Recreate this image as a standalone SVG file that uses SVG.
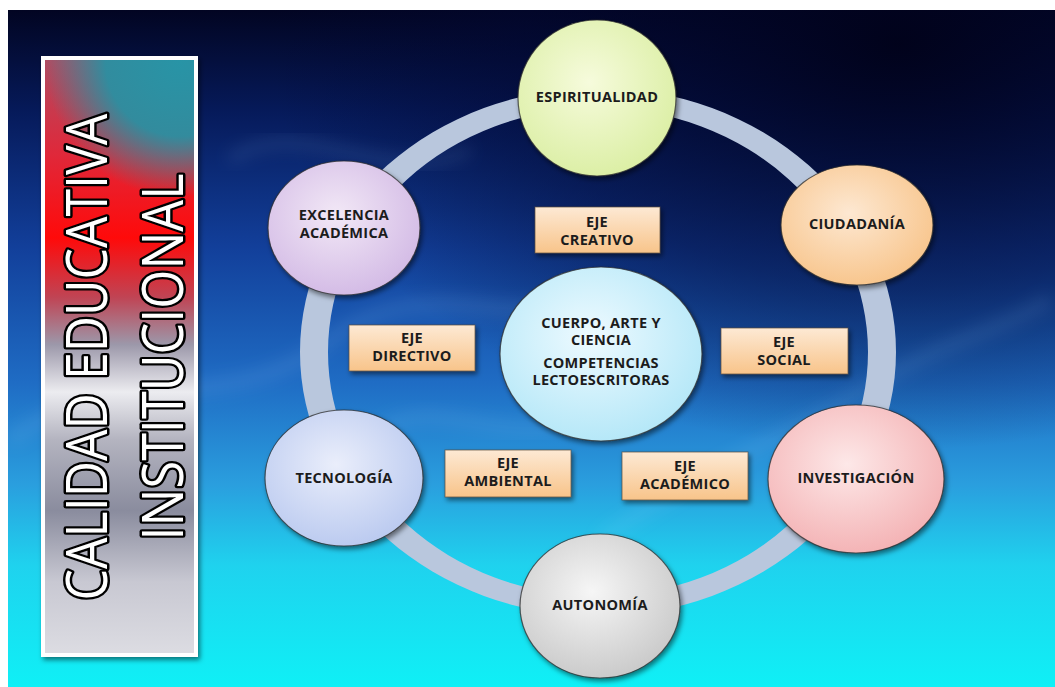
<svg xmlns="http://www.w3.org/2000/svg" width="1055" height="687" viewBox="0 0 1055 687">
<defs>
  <linearGradient id="bg" x1="0" y1="0" x2="0" y2="1">
    <stop offset="0" stop-color="#020522"/>
    <stop offset="0.15" stop-color="#061a5a"/>
    <stop offset="0.35" stop-color="#123f9a"/>
    <stop offset="0.55" stop-color="#1f6cc4"/>
    <stop offset="0.7" stop-color="#2a9ede"/>
    <stop offset="0.82" stop-color="#1fd2ee"/>
    <stop offset="1" stop-color="#0ff0f6"/>
  </linearGradient>
  <radialGradient id="darkTR" cx="0.85" cy="0.05" r="0.6">
    <stop offset="0" stop-color="#01021a" stop-opacity="0.95"/>
    <stop offset="0.6" stop-color="#020730" stop-opacity="0.5"/>
    <stop offset="1" stop-color="#020730" stop-opacity="0"/>
  </radialGradient>
  <filter id="blur" x="-20%" y="-50%" width="140%" height="200%"><feGaussianBlur stdDeviation="8"/></filter>
  <filter id="shadow" x="-20%" y="-20%" width="140%" height="140%">
    <feDropShadow dx="2" dy="3" stdDeviation="2.5" flood-color="#000" flood-opacity="0.5"/>
  </filter>
  <linearGradient id="bannerBase" x1="0" y1="0" x2="0" y2="1">
    <stop offset="0" stop-color="#b04c62"/>
    <stop offset="0.16" stop-color="#e0283a"/>
    <stop offset="0.3" stop-color="#ff0a0a"/>
    <stop offset="0.4" stop-color="#c04454"/>
    <stop offset="0.48" stop-color="#9c98aa"/>
    <stop offset="0.56" stop-color="#ececf0"/>
    <stop offset="0.64" stop-color="#b4b4c0"/>
    <stop offset="0.76" stop-color="#8a8c9e"/>
    <stop offset="0.88" stop-color="#c8c8d2"/>
    <stop offset="1" stop-color="#dcdce2"/>
  </linearGradient>
  <radialGradient id="bannerTeal" gradientUnits="userSpaceOnUse" cx="180" cy="62" r="135">
    <stop offset="0" stop-color="#2894a6"/>
    <stop offset="0.55" stop-color="#2a90a2" stop-opacity="0.95"/>
    <stop offset="1" stop-color="#2a90a2" stop-opacity="0"/>
  </radialGradient>
  <radialGradient id="gYellow" cx="0.45" cy="0.4" r="0.6">
    <stop offset="0" stop-color="#f6fbdc"/><stop offset="1" stop-color="#dcefa6"/>
  </radialGradient>
  <radialGradient id="gLav" cx="0.45" cy="0.4" r="0.6">
    <stop offset="0" stop-color="#f2e8f6"/><stop offset="1" stop-color="#d4bce6"/>
  </radialGradient>
  <radialGradient id="gPeach" cx="0.45" cy="0.4" r="0.6">
    <stop offset="0" stop-color="#fde8d2"/><stop offset="1" stop-color="#f8c68e"/>
  </radialGradient>
  <radialGradient id="gCyan" cx="0.45" cy="0.4" r="0.6">
    <stop offset="0" stop-color="#eefaff"/><stop offset="1" stop-color="#b6e8f8"/>
  </radialGradient>
  <radialGradient id="gBlue" cx="0.45" cy="0.4" r="0.6">
    <stop offset="0" stop-color="#eaeefb"/><stop offset="1" stop-color="#bccbf0"/>
  </radialGradient>
  <radialGradient id="gPink" cx="0.45" cy="0.4" r="0.6">
    <stop offset="0" stop-color="#fde8e8"/><stop offset="1" stop-color="#f4b4b6"/>
  </radialGradient>
  <radialGradient id="gGrey" cx="0.45" cy="0.4" r="0.6">
    <stop offset="0" stop-color="#f6f6f6"/><stop offset="1" stop-color="#cbcbcb"/>
  </radialGradient>
  <linearGradient id="gBox" x1="0" y1="0" x2="0" y2="1">
    <stop offset="0" stop-color="#fde9d4"/><stop offset="1" stop-color="#f8c48a"/>
  </linearGradient>
  <style>
    .node { stroke: #2e2e2e; stroke-opacity: 0.75; stroke-width: 1.2; filter: url(#shadow); }
    .box { fill: url(#gBox); stroke: #5a4a3a; stroke-opacity: 0.7; stroke-width: 1; filter: url(#shadow); }
    .lbl { font-family: "Open Sans", "Liberation Sans", sans-serif; font-weight: 700; font-size: 14.5px; letter-spacing: 0.3px; fill: #1c1c1c; text-anchor: middle; }
    .title { font-family: "Open Sans", "Liberation Sans", sans-serif; font-weight: 400; font-size: 56px; fill: #ffffff; stroke: #000000; stroke-width: 5; paint-order: stroke fill; stroke-linejoin: round; text-anchor: middle; }
    .smoke { fill: none; stroke: #a8d4ff; stroke-opacity: 0.12; filter: url(#blur); }
  </style>
</defs>

<g id="background">
  <rect x="0" y="0" width="1055" height="687" fill="#ffffff"/>
  <rect x="8" y="10" width="1047" height="677" fill="url(#bg)"/>
  <rect x="8" y="10" width="1047" height="677" fill="url(#darkTR)"/>
  <path class="smoke" stroke-width="14" d="M 10 440 C 120 360, 230 420, 330 340 C 420 270, 520 330, 560 300"/>
  <path class="smoke" stroke-width="12" d="M 600 540 C 700 470, 800 430, 880 380 C 950 340, 1000 330, 1050 300"/>
  <path class="smoke" stroke-width="10" d="M 230 160 C 300 110, 380 190, 470 150"/>
  <path class="smoke" stroke-width="12" d="M 380 430 C 440 390, 520 460, 600 410"/>
</g>

<g id="banner">
  <rect x="41" y="56" width="157" height="601" fill="#ffffff" filter="url(#shadow)"/>
  <rect x="45" y="60" width="149" height="593" fill="url(#bannerBase)"/>
  <rect x="45" y="60" width="149" height="593" fill="url(#bannerTeal)"/>
  <text class="title" transform="translate(107,357) rotate(-90)" x="0" y="0" textLength="487" lengthAdjust="spacingAndGlyphs">CALIDAD EDUCATIVA</text>
  <text class="title" transform="translate(183,357) rotate(-90)" x="0" y="0" textLength="367" lengthAdjust="spacingAndGlyphs">INSTITUCIONAL</text>
</g>

<g id="connectors">
  <path fill="#b9c7dd" fill-rule="evenodd" d="M 300 352 a 298 264 0 1 0 596 0 a 298 264 0 1 0 -596 0 Z M 328 352 a 270 244 0 1 0 540 0 a 270 244 0 1 0 -540 0 Z"/>
</g>

<g id="node-espiritualidad">
  <ellipse class="node" cx="597" cy="98" rx="79" ry="78" fill="url(#gYellow)"/>
  <text class="lbl" x="597" y="102">ESPIRITUALIDAD</text>
</g>
<g id="node-excelencia">
  <ellipse class="node" cx="344" cy="228" rx="76" ry="67" fill="url(#gLav)"/>
  <text class="lbl" x="344" y="220">EXCELENCIA</text>
  <text class="lbl" x="344" y="238">ACADÉMICA</text>
</g>
<g id="node-ciudadania">
  <ellipse class="node" cx="857" cy="225" rx="76" ry="60" fill="url(#gPeach)"/>
  <text class="lbl" x="857" y="229">CIUDADANÍA</text>
</g>
<g id="node-centro">
  <ellipse class="node" cx="601" cy="354" rx="101" ry="87" fill="url(#gCyan)"/>
  <text class="lbl" x="601" y="328">CUERPO, ARTE Y</text>
  <text class="lbl" x="601" y="345">CIENCIA</text>
  <text class="lbl" x="601" y="368">COMPETENCIAS</text>
  <text class="lbl" x="601" y="385">LECTOESCRITORAS</text>
</g>
<g id="node-tecnologia">
  <ellipse class="node" cx="344" cy="478" rx="79" ry="68" fill="url(#gBlue)"/>
  <text class="lbl" x="344" y="483">TECNOLOGÍA</text>
</g>
<g id="node-investigacion">
  <ellipse class="node" cx="856" cy="479" rx="88" ry="74" fill="url(#gPink)"/>
  <text class="lbl" x="856" y="483">INVESTIGACIÓN</text>
</g>
<g id="node-autonomia">
  <ellipse class="node" cx="600" cy="606" rx="80" ry="72" fill="url(#gGrey)"/>
  <text class="lbl" x="600" y="610">AUTONOMÍA</text>
</g>

<g id="eje-creativo">
  <rect class="box" x="535" y="207" width="125" height="46"/>
  <text class="lbl" x="597" y="227">EJE</text>
  <text class="lbl" x="597" y="245">CREATIVO</text>
</g>
<g id="eje-directivo">
  <rect class="box" x="349" y="325" width="126" height="46"/>
  <text class="lbl" x="412" y="343">EJE</text>
  <text class="lbl" x="412" y="361">DIRECTIVO</text>
</g>
<g id="eje-social">
  <rect class="box" x="721" y="328" width="127" height="46"/>
  <text class="lbl" x="784" y="347">EJE</text>
  <text class="lbl" x="784" y="365">SOCIAL</text>
</g>
<g id="eje-ambiental">
  <rect class="box" x="445" y="450" width="126" height="47"/>
  <text class="lbl" x="508" y="468">EJE</text>
  <text class="lbl" x="508" y="486">AMBIENTAL</text>
</g>
<g id="eje-academico">
  <rect class="box" x="622" y="452" width="126" height="48"/>
  <text class="lbl" x="685" y="471">EJE</text>
  <text class="lbl" x="685" y="489">ACADÉMICO</text>
</g>
</svg>
